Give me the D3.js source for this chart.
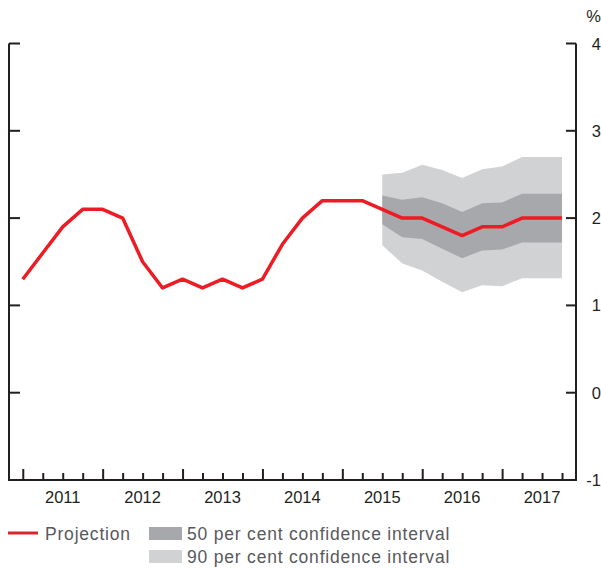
<!DOCTYPE html>
<html>
<head>
<meta charset="utf-8">
<script src="https://cdn.jsdelivr.net/npm/d3@7"></script>
<style>
  body { margin: 0; background: #fff; }
  text { font-family: "Liberation Sans", Arial, sans-serif; }
</style>
</head>
<body>
<script>
// quarterly data, index 0 = Dec 2010
var projection = [1.3, 1.6, 1.9, 2.1, 2.1, 2.0, 1.5, 1.2, 1.3, 1.2, 1.3, 1.2, 1.3, 1.7,
                  2.0, 2.2, 2.2, 2.2, 2.1, 2.0, 2.0, 1.9, 1.8, 1.9, 1.9, 2.0, 2.0, 2.0];
// confidence bands start at index 18
var bandStart = 18;
var upper90 = [2.50, 2.52, 2.61, 2.55, 2.46, 2.56, 2.59, 2.70, 2.70, 2.70];
var upper50 = [2.26, 2.21, 2.24, 2.17, 2.07, 2.17, 2.18, 2.28, 2.28, 2.28];
var lower50 = [1.93, 1.78, 1.76, 1.65, 1.54, 1.63, 1.64, 1.72, 1.72, 1.72];
var lower90 = [1.69, 1.48, 1.40, 1.27, 1.15, 1.23, 1.22, 1.31, 1.31, 1.31];
var years = ["2011", "2012", "2013", "2014", "2015", "2016", "2017"];
var yTicks = [-1, 0, 1, 2, 3, 4];

var width = 601,
    height = 568;

var svg = d3.select("body").append("svg")
    .attr("width", width)
    .attr("height", height);

var x = d3.scaleLinear().domain([-0.69, 27.7]).range([9, 576]);
var y = d3.scaleLinear().domain([-1, 4]).range([480, 43.5]);

// bands
var bandData = upper90.map(function(d, i) {
    return { q: bandStart + i, u90: d, u50: upper50[i], l50: lower50[i], l90: lower90[i] };
});

svg.append("path")
    .datum(bandData)
    .attr("fill", "#d1d2d4")
    .attr("d", d3.area().x(function(d) { return x(d.q); })
        .y0(function(d) { return y(d.l90); })
        .y1(function(d) { return y(d.u90); }));

svg.append("path")
    .datum(bandData)
    .attr("fill", "#a7a8ab")
    .attr("d", d3.area().x(function(d) { return x(d.q); })
        .y0(function(d) { return y(d.l50); })
        .y1(function(d) { return y(d.u50); }));

// projection line
svg.append("path")
    .datum(projection)
    .attr("fill", "none")
    .attr("stroke", "#ed1c24")
    .attr("stroke-width", 3.5)
    .attr("stroke-linejoin", "round")
    .attr("d", d3.line().x(function(d, i) { return x(i); }).y(function(d) { return y(d); }));

// x axis ticks
var majorQ = d3.range(0, 28, 4),
    minorQ = d3.range(0, 28).filter(function(q) { return q % 4 != 0; });

svg.append("g")
    .attr("transform", "translate(0," + y(-1) + ")")
    .call(d3.axisBottom(x).tickValues(minorQ).tickSize(-7).tickSizeOuter(0).tickFormat(""))
    .call(function(g) { g.select(".domain").remove(); });

svg.append("g")
    .attr("transform", "translate(0," + y(-1) + ")")
    .call(d3.axisBottom(x).tickValues(majorQ).tickSize(-11).tickSizeOuter(0).tickFormat(""))
    .call(function(g) { g.select(".domain").remove(); });

svg.selectAll(".tick line").attr("stroke", "#231f20").attr("stroke-width", 2);

svg.selectAll(".yearLabel")
    .data(years)
    .enter().append("text")
    .attr("class", "yearLabel")
    .attr("x", function(d, i) { return x(2 + 4 * i); })
    .attr("y", 503)
    .attr("text-anchor", "middle")
    .attr("font-size", "16.5px")
    .attr("fill", "#231f20")
    .text(function(d) { return d; });

// y ticks both sides
svg.append("g").selectAll("line")
    .data(yTicks.slice(1))
    .enter().append("line")
    .attr("x1", 9).attr("x2", 20)
    .attr("y1", function(d) { return y(d); })
    .attr("y2", function(d) { return y(d); })
    .attr("stroke", "#231f20").attr("stroke-width", 2);

svg.append("g").selectAll("line")
    .data(yTicks.slice(1))
    .enter().append("line")
    .attr("x1", 566).attr("x2", 576)
    .attr("y1", function(d) { return y(d); })
    .attr("y2", function(d) { return y(d); })
    .attr("stroke", "#231f20").attr("stroke-width", 2);

svg.selectAll(".yLabel")
    .data(yTicks)
    .enter().append("text")
    .attr("class", "yLabel")
    .attr("x", 601)
    .attr("y", function(d) { return y(d) + 6; })
    .attr("text-anchor", "end")
    .attr("font-size", "16.5px")
    .attr("fill", "#231f20")
    .text(function(d) { return d; });

svg.append("text")
    .attr("x", 601).attr("y", 22)
    .attr("text-anchor", "end")
    .attr("font-size", "16.5px")
    .attr("fill", "#231f20")
    .text("%");

// frame lines
svg.append("path")
    .attr("d", "M9," + y(4) + "V" + y(-1) + "H576V" + y(4))
    .attr("fill", "none")
    .attr("stroke", "#231f20")
    .attr("stroke-width", 2);

// legend
svg.append("line")
    .attr("x1", 8).attr("x2", 38)
    .attr("y1", 533).attr("y2", 533)
    .attr("stroke", "#d7282f").attr("stroke-width", 3);
svg.append("text")
    .attr("x", 45).attr("y", 540)
    .attr("font-size", "17.5px").attr("letter-spacing", "0.8px").attr("fill", "#58595b")
    .text("Projection");

svg.append("rect")
    .attr("x", 149).attr("y", 527).attr("width", 33).attr("height", 13)
    .attr("fill", "#a7a8ab");
svg.append("text")
    .attr("x", 187).attr("y", 540)
    .attr("font-size", "17.5px").attr("letter-spacing", "0.8px").attr("fill", "#58595b")
    .text("50 per cent confidence interval");

svg.append("rect")
    .attr("x", 149).attr("y", 550).attr("width", 33).attr("height", 13)
    .attr("fill", "#d1d2d4");
svg.append("text")
    .attr("x", 187).attr("y", 563)
    .attr("font-size", "17.5px").attr("letter-spacing", "0.8px").attr("fill", "#58595b")
    .text("90 per cent confidence interval");
</script>
</body>
</html>
